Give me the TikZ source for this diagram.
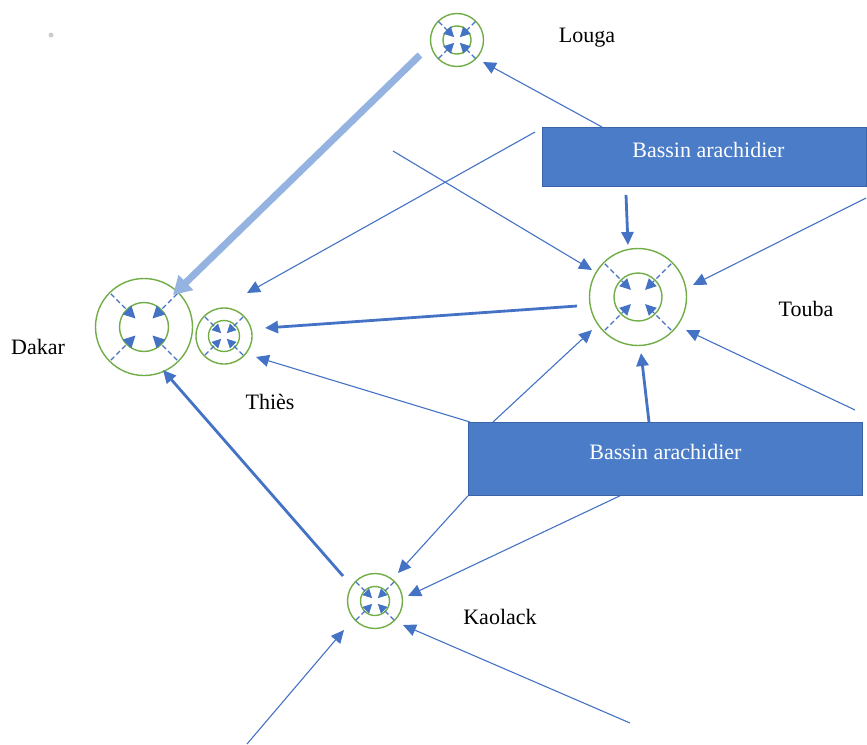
\documentclass[tikz,border=0pt]{standalone}
\usepackage{fontspec}
\setmainfont{Liberation Serif}
\usetikzlibrary{arrows.meta,calc}

\definecolor{linkblue}{HTML}{4472C4}
\definecolor{paleblue}{HTML}{95B3E0}
\definecolor{ringgreen}{HTML}{70AD47}
\definecolor{boxblue}{HTML}{4A7CC8}
\definecolor{boxedge}{HTML}{3A63A8}

\tikzset{
  ring/.style={circle,draw=ringgreen,line width=1.4pt,inner sep=0pt,minimum size=#1},
  link/.style={draw=linkblue,line width=1.1pt,-{Triangle[length=13pt,width=12pt]}},
  heavy/.style={draw=linkblue,line width=2.8pt,-{Triangle[length=13pt,width=12pt]}},
  pale/.style={draw=paleblue,line width=7pt,-{Triangle[length=18pt,width=20pt]}},
  ray/.style={draw=linkblue,line width=1.2pt,dash pattern=on 5pt off 3pt,-{Triangle[length=#1,width=#1]}},
  region/.style={fill=boxblue,draw=boxedge,line width=0.8pt,inner sep=0pt,anchor=north west},
  boxtext/.style={text=white,font=\fontsize{22}{26}\selectfont},
  place/.style={text=black,font=\fontsize{22}{26}\selectfont}
}

% four converging rays inside a hub: centre, start radius, end radius, tip size
\newcommand\hubrays[4]{%
  \foreach \a in {45,135,225,315}{%
    \draw[ray=#4] ($(#1)+(\a:#2)$) -- ($(#1)+(\a:#3)$);}}

\begin{document}
\begin{tikzpicture}[x=1pt,y=-1pt]
\useasboundingbox (0,0) rectangle (867,744);

% faint dot in the corner
\fill[gray!40] (51,35) circle (2.5);

% hubs: outer and inner rings
\node[ring=97pt] (dakar) at (144,327) {};
\node[ring=49pt] (dakar-in) at (dakar) {};
\node[ring=56pt] (thies) at (224,336) {};
\node[ring=31pt] (thies-in) at (thies) {};
\node[ring=53pt] (louga) at (457,40) {};
\node[ring=28pt] (louga-in) at (louga) {};
\node[ring=97pt] (touba) at (638,297) {};
\node[ring=48pt] (touba-in) at (touba) {};
\node[ring=55pt] (kaolack) at (375,601) {};
\node[ring=29pt] (kaolack-in) at (kaolack) {};

\hubrays{dakar}{47}{12}{12pt}
\hubrays{thies}{27}{4}{9pt}
\hubrays{louga}{26}{4}{10pt}
\hubrays{touba}{47}{10}{11pt}
\hubrays{kaolack}{27}{4}{9pt}

% place names
\node[place] (lbl-louga) at (587,38) {Louga};
\node[place] (lbl-touba) at (806,309) {Touba};
\node[place] (lbl-dakar) at (38,347) {Dakar};
\node[place] (lbl-thies) at (270,402) {Thiès};
\node[place] (lbl-kaolack) at (500,617) {Kaolack};

% groundnut basin boxes
\node[region,minimum width=324pt,minimum height=59pt] (basnord) at (542,127) {};
\node[boxtext] (basnord-txt) at ($(basnord.center)+(4,-7)$) {Bassin arachidier};
\node[region,minimum width=394pt,minimum height=73pt] (bassud) at (468,422) {};
\node[boxtext] (bassud-txt) at ($(bassud.center)+(0,-7)$) {Bassin arachidier};

% free ends of incoming flows
\coordinate (f2) at (535,132);
\coordinate (f3) at (393,151);
\coordinate (f5) at (866,198);
\coordinate (f10) at (855,410);
\coordinate (f13) at (630,723);
\coordinate (f14) at (247,744);

% flows
\draw[link] ($(basnord.north west)+(60,0)$) -- ($(louga)+(26,22)$);
\draw[link] (f2) -- ($(thies)+(23,-43)$);
\draw[link] (f3) -- ($(touba)+(-46,-27)$);
\draw[heavy] ($(basnord.south west)+(84,8)$) -- ($(touba)+(-10,-52)$);
\draw[link] (f5) -- ($(touba)+(55,-12)$);
\draw[heavy] ($(touba)+(-61,9)$) -- ($(thies)+(41,-8)$);
\draw[link] ($(bassud.north west)+(2,0)$) -- ($(thies)+(32,21)$);
\draw[link] ($(bassud.north west)+(25,0)$) -- ($(touba)+(-46,33)$);
\draw[heavy] ($(bassud.north west)+(181,0)$) -- ($(touba)+(3,56)$);
\draw[link] (f10) -- ($(touba)+(48,33)$);
\draw[link] (bassud.south west) -- ($(kaolack)+(23,-28)$);
\draw[link] ($(bassud.south west)+(152,0)$) -- ($(kaolack)+(33,-5)$);
\draw[link] (f13) -- ($(kaolack)+(28,24)$);
\draw[link] (f14) -- ($(kaolack)+(-31,29)$);
\draw[heavy] ($(kaolack)+(-32,-25)$) -- ($(dakar)+(19,43)$);
\draw[pale] ($(louga)+(-37,15)$) -- ($(dakar)+(29,-32)$);
\end{tikzpicture}
\end{document}
